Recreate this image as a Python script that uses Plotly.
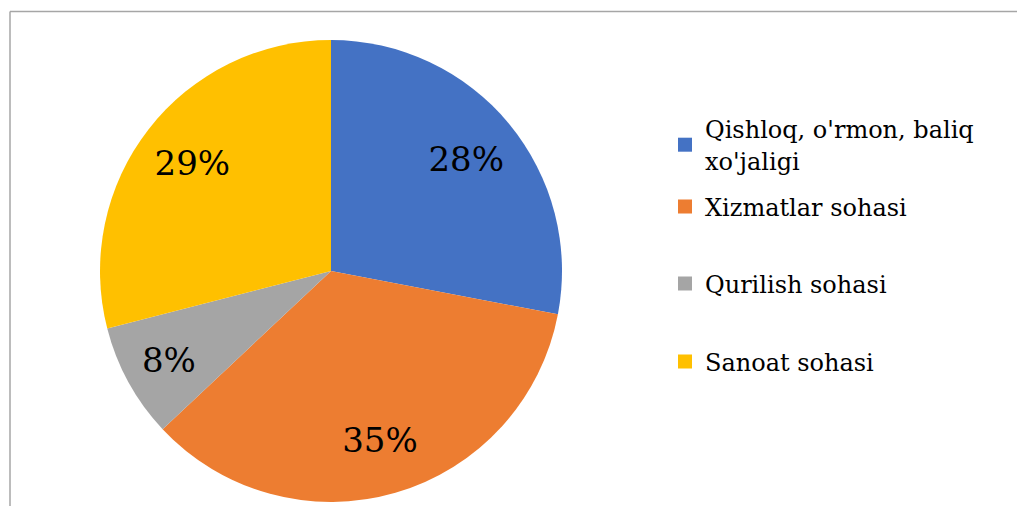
import plotly.graph_objects as go

categories = ["Qishloq, o'rmon, baliq<br>xo'jaligi", "Xizmatlar sohasi", "Qurilish sohasi", "Sanoat sohasi"]
values = [28, 35, 8, 29]
colors = ["#4472C4", "#ED7D31", "#A5A5A5", "#FFC000"]

W, H = 1017, 506
cx, cy, r = 331, 271, 231
dom = dict(x=[(cx - r) / W, (cx + r) / W], y=[(H - cy - r) / H, (H - cy + r) / H])

fig = go.Figure()
# filled slices
fig.add_trace(go.Pie(
    values=values, labels=categories,
    marker=dict(colors=colors, line=dict(width=0)),
    sort=False, direction="clockwise", rotation=0,
    textinfo="none", showlegend=False, hoverinfo="skip",
    domain=dom,
))
# transparent ring carrying the percentage labels (places them in outer part of slices)
fig.add_trace(go.Pie(
    values=values, labels=categories,
    marker=dict(colors=["rgba(0,0,0,0)"] * len(values), line=dict(width=0)),
    sort=False, direction="clockwise", rotation=0, hole=0.52,
    texttemplate="%{value}%", textposition="inside",
    insidetextorientation="horizontal",
    textfont=dict(family="DejaVu Serif", size=34, color="black"),
    showlegend=False, hoverinfo="skip",
    domain=dom,
))

legend_centers = [145, 207, 284, 362]
legend_names = ["legend", "legend2", "legend3", "legend4"]
for i, (cat, col) in enumerate(zip(categories, colors)):
    fig.add_trace(go.Scatter(
        x=[None], y=[None], mode="markers", name=cat,
        marker=dict(symbol="square", size=14, color=col),
        showlegend=True, legend=legend_names[i],
    ))

leg_common = dict(
    x=665 / W, xanchor="left", yanchor="middle",
    font=dict(family="DejaVu Serif", size=24, color="black"),
    itemwidth=30, bgcolor="rgba(0,0,0,0)",
)
layout_legends = {}
for name, c in zip(legend_names, legend_centers):
    layout_legends[name] = dict(leg_common, y=1 - c / H)

fig.update_layout(
    width=W, height=H,
    margin=dict(l=0, r=0, t=0, b=0),
    paper_bgcolor="white", plot_bgcolor="white",
    xaxis=dict(visible=False), yaxis=dict(visible=False),
    shapes=[
        dict(type="line", xref="paper", yref="paper", x0=10 / W, x1=1.0,
             y0=1 - 11.5 / H, y1=1 - 11.5 / H,
             line=dict(color="#A6A6A6", width=1.5)),
        dict(type="line", xref="paper", yref="paper", x0=10 / W, x1=10 / W,
             y0=0, y1=1 - 11.5 / H,
             line=dict(color="#A6A6A6", width=1.5)),
    ],
    **layout_legends,
)

fig.write_html("out.html", config={"displayModeBar": False},
               post_script="document.body.style.margin='0px';")
